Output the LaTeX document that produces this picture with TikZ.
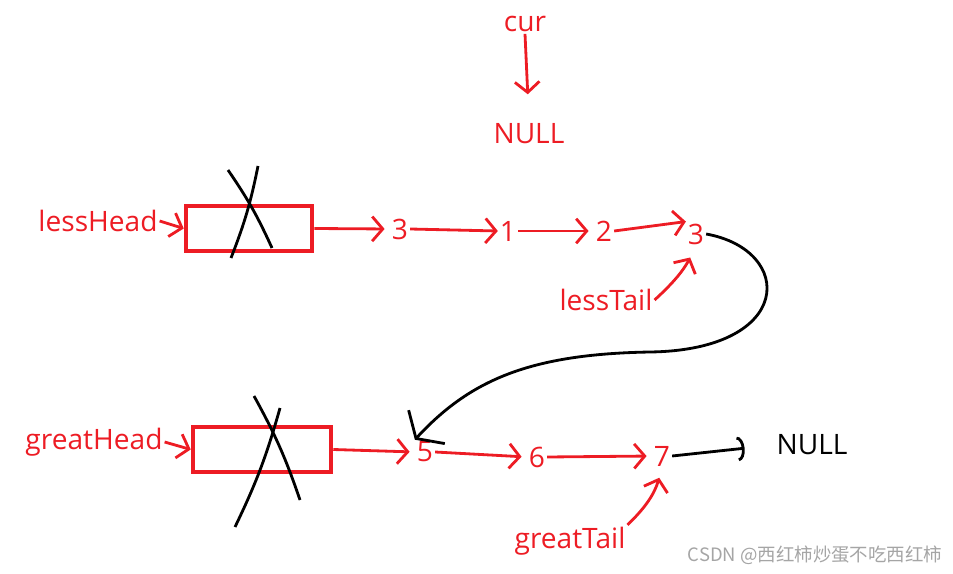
\documentclass[tikz,border=0pt]{standalone}
\usepackage{fontspec}
\setmainfont{Open Sans}
\newfontfamily\cjkfont{Noto Sans CJK SC}
\usetikzlibrary{arrows.meta}

\definecolor{pred}{RGB}{237,28,36}
\definecolor{wmark}{RGB}{165,165,165}

\tikzset{
    lbl/.style={text=pred, font=\fontsize{16}{19}\selectfont, inner sep=1pt},
    ptr/.style={draw=pred, line width=1.6pt, -{Straight Barb[length=6pt,width=14pt]}},
    headbox/.style={draw=pred, line width=2.6pt, minimum height=0.9cm},
    cross/.style={line width=1.6pt, black},
}

\begin{document}
\begin{tikzpicture}[x=0.02cm, y=-0.02cm]
        \useasboundingbox (0,0) rectangle (953,574);

        % cur
        \node[lbl] (cur) at (525,24) {cur};
        \node[lbl] (nulltop) at (529,134) {NULL};
        \draw[ptr, shorten >=0.55cm] (cur.south) -- (nulltop.north);

        % less list
        \node[lbl] (lessHead) at (98,221) {lessHead};
        \node[headbox, minimum width=2.52cm] (lessBox) at (249,228.5) {};
        \node[lbl] (l1) at (400,229) {3};
        \node[lbl] (l2) at (508,231) {1};
        \node[lbl] (l3) at (604,231) {2};
        \node[lbl] (l4) at (696,234) {3};
        \node[lbl] (lessTail) at (606,300) {lessTail};

        \draw[ptr] (lessHead.east) -- (lessBox.west);
        \draw[ptr, shorten >=3pt] (lessBox.east) -- (l1.west);
        \draw[ptr] (l1.east) -- (l2.west);
        \draw[ptr, shorten >=3pt] (l2.east) -- (l3.west);
        \draw[ptr] (l3.east) -- (l4.north west);
        \draw[ptr, shorten >=0.25cm] (lessTail.east) to[bend right=10] (l4.south);

        \draw[cross] (228,170) to[bend left=5] (272,248);
        \draw[cross] (258,166) to[bend left=5] (231,258);

        % great list
        \node[lbl] (greatHead) at (94,442) {greatHead};
        \node[headbox, minimum width=2.76cm] (greatBox) at (262,449.5) {};
        \node[lbl] (g1) at (425,452) {5};
        \node[lbl] (g2) at (537,457) {6};
        \node[lbl] (g3) at (662,456) {7};
        \node[lbl] (greatTail) at (570,541) {greatTail};
        \node[lbl, text=black] (nullEnd) at (812,445) {NULL};

        \draw[ptr] (greatHead.east) -- (greatBox.west);
        \draw[ptr, shorten >=3pt] (greatBox.east) -- (g1.west);
        \draw[ptr, shorten >=3pt] (g1.east) -- (g2.west);
        \draw[ptr, shorten >=3pt] (g2.east) -- (g3.west);
        \draw[ptr, shorten >=0.2cm] (greatTail.north east) to[bend right=15] (g3.south);
        \draw[line width=1.6pt, -{Arc Barb[length=4pt,width=14pt]}, shorten >=0.6cm] (g3.east) -- (nullEnd.west);

        \draw[cross] (254,396) to[bend left=5] (300,500);
        \draw[cross] (280,408) to[bend left=5] (235,527);

        % tail of less joins head of great
        \draw[line width=1.6pt, -{Straight Barb[length=9pt,width=28pt]}]
            (l4.east) .. controls (795,250) and (795,350) .. (650,352)
            .. controls (530,354) and (470,380) .. (g1.north west);

        \node[text=wmark, font=\cjkfont\fontsize{10.5}{12}\selectfont] (mark) at (815,555) {CSDN @西红柿炒蛋不吃西红柿};
    \end{tikzpicture}
\end{document}
